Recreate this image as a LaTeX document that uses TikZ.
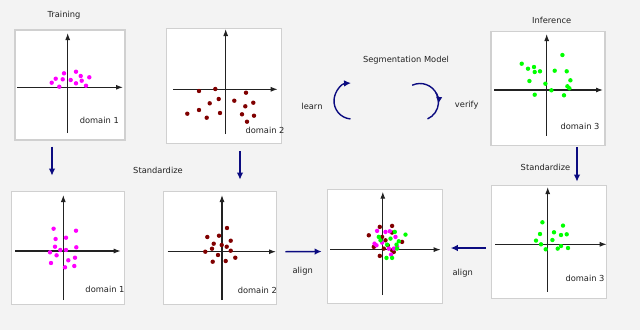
\documentclass[tikz,border=0pt]{standalone}
\usepackage{fontspec}
\setmainfont{DejaVu Sans}
\usepackage{tikz}
\usetikzlibrary{arrows.meta,positioning,calc}
\definecolor{pagebg}{HTML}{F3F3F3}
\definecolor{frame}{HTML}{D0D0D0}
\definecolor{navy}{HTML}{0B0B80}
\definecolor{magpt}{HTML}{FF00FF}
\definecolor{redpt}{HTML}{800000}
\definecolor{greenpt}{HTML}{00FF00}
\definecolor{ink}{HTML}{222222}

\begin{document}
\begin{tikzpicture}[x=1pt,y=-1pt,font=\fontsize{8.3pt}{10pt}\selectfont,>=Latex]
\tikzset{panel/.style={draw=frame,line width=1.1pt,fill=white,inner sep=0pt}, axis/.style={draw=ink,line width=1.1pt,-{Latex[length=7pt,width=5pt]}}, flow/.style={draw=navy,line width=1.4pt,-{Latex[length=7pt,width=6.5pt]}}, turn/.style={draw=navy,line width=1.4pt}, lbl/.style={text=ink,inner sep=1pt}, dotM/.style={fill=magpt}, dotR/.style={fill=redpt}, dotG/.style={fill=greenpt}}
\fill[pagebg] (0,0) rectangle (640,330);
\useasboundingbox (0,0) rectangle (640,330);
% panels
\node[panel,minimum width=110pt,minimum height=110pt] (pA) at (70,85) {};
\node[panel,minimum width=115pt,minimum height=115pt] (pB) at (224,85.7) {};
\node[panel,minimum width=114pt,minimum height=114pt] (pC) at (548,88.7) {};
\node[panel,minimum width=113pt,minimum height=113pt] (pD) at (67.7,247.7) {};
\node[panel,minimum width=113pt,minimum height=113pt] (pE) at (220,247.7) {};
\node[panel,minimum width=115pt,minimum height=114pt] (pF) at (384.7,246.2) {};
\node[panel,minimum width=115pt,minimum height=113pt] (pG) at (549.3,241.7) {};
% axes
\foreach \ox/\oy/\l/\r/\t/\b in {67.7/87.3/17/123/33/133, 225.7/89.3/173/277.7/29/134, 546.7/90/494/603/34/135.7, 63.3/251/15/120.7/195/300, 222/251.7/167.7/276/195/300, 382.8/249.6/330/440.7/191.7/295, 547.7/244.3/495/606.7/187/291.7} {
  \draw[axis] (\l,\oy) -- (\r,\oy);
  \draw[axis] (\ox,\b) -- (\ox,\t);
}
% point clouds
\begin{scope}[shift={(67.7,87.3)},y=1pt]
\foreach \p in {(-16,4.6),(-12,8.6),(-8.4,0.6),(-5,8),(-3.7,14),(3,7.3),(8.3,15.6),(8.3,4),(13,11.3),(14,6.6),(18.3,1.6),(21.6,10)}
  \fill[dotM] \p circle (2.2pt);
\end{scope}
\begin{scope}[shift={(225.7,89.3)},y=1pt]
\foreach \p in {(-26.7,-1.7),(-10.4,0.3),(20.3,-3.4),(-7,-9.7),(8.6,-11.4),(-16,-14),(27.6,-13.4),(19.6,-17),(-26.7,-20.7),(-38.4,-24.4),(-5.7,-23.7),(16.3,-25),(28.3,-26.4),(-19,-28.4),(21.3,-32.4)}
  \fill[dotR] \p circle (2.2pt);
\end{scope}
\begin{scope}[shift={(546.7,90)},y=1pt]
\foreach \p in {(15.7,35),(-25,26.3),(-18.7,21.3),(-12.7,23),(-12,18),(-6.7,18.7),(8,19.3),(20,18.7),(-17.3,9),(-1.3,6.3),(23.7,9.7),(20.7,3.7),(22.7,1.7),(4.7,-0.3),(-12,-4.7),(17.3,-5.3)}
  \fill[dotG] \p circle (2.2pt);
\end{scope}
\begin{scope}[shift={(63.3,251)},y=1pt]
\foreach \p in {(-9.7,22.3),(12.7,20.3),(-7.7,12),(2.7,13.3),(-8.3,4.3),(13,3.7),(-13.3,-1.3),(-3,1),(2.7,1),(-6.7,-4.3),(11.7,-6.7),(5,-9.3),(-12.3,-12),(11,-15),(1.7,-16.3)}
  \fill[dotM] \p circle (2.2pt);
\end{scope}
\begin{scope}[shift={(222,251.7)},y=1pt]
\foreach \p in {(5,23.7),(-14.7,14.7),(-3,16),(8.7,11),(-8.3,8),(-0.3,6.7),(4.7,5),(-10,3),(8.7,1),(-16.7,0),(-4,-3.3),(13.3,-6),(-9.3,-10),(3.7,-9.3)}
  \fill[dotR] \p circle (2.2pt);
\end{scope}
\begin{scope}[shift={(382.8,249.6)},y=1pt]
\foreach \p in {(-14,14.3),(-3,22.7),(9.3,23.7),(9.3,17),(-0.7,12.7),(2.7,9.3),(-9,2.7),(5,4.3),(9.3,-0.7),(1,1),(19.3,7.7),(-3,-6.3),(11,-2.3)}
  \fill[dotR] \p circle (2.2pt);
\foreach \p in {(-5.7,18.7),(2.7,17.7),(7,18.3),(12.7,12.7),(-6.3,4.3),(-0.7,7),(14.3,2.7),(6,1),(8.3,-5),(11,1),(-8.3,6)}
  \fill[dotM] \p circle (2.2pt);
\foreach \p in {(12,17.7),(22.7,15),(-4,12.7),(7.7,11),(16,8.3),(4.3,5),(13.7,5),(3.7,-8.3),(9.3,-8.3),(-2.3,9.3),(14.3,1)}
  \fill[dotG] \p circle (2.2pt);
\end{scope}
\begin{scope}[shift={(547.7,244.3)},y=1pt]
\foreach \p in {(-5.3,22),(15.3,18.7),(6.3,12),(-7.7,10.3),(19,10),(13.3,9.3),(4.7,4.3),(-11.7,3.7),(-6.7,0),(13.3,-1.7),(-2,-5),(10,-4.3),(20.3,-3.7)}
  \fill[dotG] \p circle (2.2pt);
\end{scope}
% labels
\node[lbl] (ltrain) at (64,15.7) {Training};
\node[lbl] (linfer) at (551.7,20.7) {Inference};
\node[lbl] (lseg) at (406,60) {Segmentation Model};
\node[lbl] (llearn) at (312,106) {learn};
\node[lbl] (lverify) at (466.7,105) {verify};
\node[lbl] (ldomA) at (99.3,120.7) {domain 1};
\node[lbl] (ldomB) at (265,130) {domain 2};
\node[lbl] (ldomC) at (580,126.7) {domain 3};
\node[lbl] (lstdL) at (158,170) {Standardize};
\node[lbl] (lstdR) at (545.5,167.7) {Standardize};
\node[lbl] (ldomD) at (105,289) {domain 1};
\node[lbl] (ldomE) at (257.3,290.3) {domain 2};
\node[lbl] (ldomG) at (585,278.3) {domain 3};
\node[lbl] (lalignL) at (302.7,271.7) {align};
\node[lbl] (lalignR) at (462.7,273.3) {align};
% flow arrows
\draw[flow] ([xshift=-18pt,yshift=-6pt]pA.south) -- ([xshift=-15.7pt,yshift=15pt]pD.north);
\draw[flow] ([xshift=16pt,yshift=-7pt]pB.south) -- ([xshift=20pt,yshift=11pt]pE.north);
\draw[flow] ([xshift=29pt,yshift=-1pt]pC.south) -- ([xshift=27.7pt,yshift=3pt]pG.north);
\draw[flow] ([xshift=8.3pt,yshift=-4pt]pE.east) -- ([xshift=-5pt,yshift=-5.3pt]pF.west);
\draw[flow] ([xshift=-5.3pt,yshift=-6.3pt]pG.west) -- ([xshift=8pt,yshift=-1.8pt]pF.east);
% learn / verify cycle
\coordinate (cycL) at (352,101);
\coordinate (cycR) at (420,102);
\draw[flow] ([shift={(265:18pt)}]cycL) arc[start angle=265,end angle=93,radius=18pt];
\draw[turn] ([shift={(115:18.5pt)}]cycR) arc[start angle=115,end angle=-66,radius=18.5pt];
\draw[flow] ([shift={(30:18.5pt)}]cycR) arc[start angle=30,end angle=-6,radius=18.5pt];
\end{tikzpicture}
\end{document}
